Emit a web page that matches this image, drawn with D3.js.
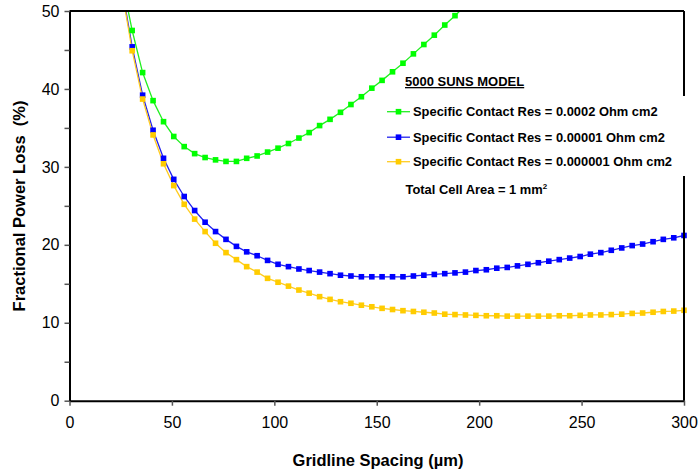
<!DOCTYPE html>
<html>
<head>
<meta charset="utf-8">
<script src="https://cdnjs.cloudflare.com/ajax/libs/d3/7.8.5/d3.min.js"></script>
<style>
html,body{margin:0;padding:0;background:#fff;}
svg{display:block;font-family:"Liberation Sans",Arial,sans-serif;}
</style>
</head>
<body>
<svg id="chart" width="699" height="471"></svg>
<script>
// Gridline spacing (µm) – first value lies above the plot (line enters from the top)
const spacing = [25.5, 30.6, 35.7, 40.8, 45.9, 50.9, 56.0, 61.1, 66.2, 71.3, 76.4, 81.5, 86.5, 91.6, 96.7, 101.8, 106.9, 112.0, 117.0, 122.1, 127.2, 132.3, 137.4, 142.5, 147.6, 152.6, 157.7, 162.8, 167.9, 173.0, 178.1, 183.2, 188.2, 193.3, 198.4, 203.5, 208.6, 213.7, 218.7, 223.8, 228.9, 234.0, 239.1, 244.2, 249.3, 254.3, 259.4, 264.5, 269.6, 274.7, 279.8, 284.9, 289.9, 295.0, 300.0];

// Fractional power loss (%)
const res0002 = [54.1, 47.5, 42.1, 38.5, 35.8, 33.9, 32.6, 31.7, 31.2, 30.9, 30.7, 30.7, 31.1, 31.4, 31.9, 32.4, 33.0, 33.7, 34.4, 35.3, 36.1, 37.0, 38.0, 39.0, 40.1, 41.1, 42.2, 43.3, 44.5, 45.7, 46.9, 48.2, 49.4, 50.7];
const res00001 = [53.1, 45.4, 39.2, 34.7, 31.1, 28.4, 26.2, 24.4, 22.9, 21.7, 20.7, 19.8, 19.1, 18.6, 18.0, 17.5, 17.2, 16.9, 16.7, 16.5, 16.3, 16.1, 16.0, 15.9, 15.9, 15.9, 15.9, 15.9, 16.0, 16.1, 16.2, 16.3, 16.4, 16.5, 16.7, 16.8, 17.0, 17.1, 17.3, 17.5, 17.7, 17.9, 18.1, 18.3, 18.5, 18.8, 19.0, 19.3, 19.6, 19.9, 20.1, 20.4, 20.7, 20.9, 21.2];
const res000001 = [52.8, 44.9, 38.7, 34.1, 30.4, 27.6, 25.2, 23.3, 21.7, 20.2, 19.0, 18.1, 17.2, 16.5, 15.7, 15.2, 14.7, 14.2, 13.8, 13.35, 13.0, 12.7, 12.5, 12.25, 12.05, 11.85, 11.7, 11.55, 11.45, 11.35, 11.25, 11.1, 11.05, 11.0, 10.95, 10.9, 10.9, 10.85, 10.85, 10.85, 10.85, 10.85, 10.9, 10.9, 10.95, 11.0, 11.0, 11.05, 11.1, 11.2, 11.25, 11.35, 11.45, 11.5, 11.6];

const seriesNames = ["Specific Contact Res = 0.0002 Ohm cm2", "Specific Contact Res = 0.00001 Ohm cm2", "Specific Contact Res = 0.000001 Ohm cm2"];
const seriesColors = ["#00ff00", "#0000ff", "#ffcc00"];
const lineColors = ["#22ee22", "#2222ee", "#ffcc22"];
const xTicks = [0, 50, 100, 150, 200, 250, 300];
const yTicks = [0, 10, 20, 30, 40, 50];
const yMinorTicks = [5, 15, 25, 35, 45];

const svg = d3.select("#chart");
const L = 69.5, R = 684, T = 11, B = 400.7;
const x = d3.scaleLinear().domain([0, 300]).range([L, R]);
const y = d3.scaleLinear().domain([0, 50]).range([B, T]);

svg.append("defs").append("clipPath").attr("id", "plotclip")
  .append("rect").attr("x", L).attr("y", T).attr("width", R - L).attr("height", B - T);

const seriesData = [res0002, res00001, res000001].map(vals => vals.map((v, i) => ({x: spacing[i], y: v})));

// series lines
const line = d3.line().x(d => x(d.x)).y(d => y(d.y));
const plot = svg.append("g");
seriesData.forEach((data, si) => {
  plot.append("path").datum(data)
    .attr("clip-path", "url(#plotclip)")
    .attr("fill", "none")
    .attr("stroke", lineColors[si])
    .attr("stroke-width", 1.3)
    .attr("d", line);
});
seriesData.forEach((data, si) => {
  const ms = 5.6;
  plot.selectAll(null).data(data.filter(d => d.y <= 50)).enter().append("rect")
    .attr("x", d => x(d.x) - ms / 2).attr("y", d => y(d.y) - ms / 2)
    .attr("width", ms).attr("height", ms)
    .attr("fill", seriesColors[si]);
});

// frame (top / right)
svg.append("line").attr("x1", L).attr("x2", R).attr("y1", T).attr("y2", T).attr("stroke", "#000").attr("stroke-width", 2);
svg.append("line").attr("x1", R).attr("x2", R).attr("y1", T).attr("y2", B).attr("stroke", "#000").attr("stroke-width", 2);

// axes
const xAxis = d3.axisBottom(x).tickValues(xTicks).tickSize(5).tickSizeOuter(0).tickPadding(11);
const gx = svg.append("g").attr("transform", `translate(0,${B})`).call(xAxis);
gx.select(".domain").attr("stroke", "#000").attr("stroke-width", 2);
gx.selectAll(".tick line").attr("stroke", "#555").attr("stroke-width", 1.5);
gx.selectAll(".tick text").attr("font-size", 16).attr("fill", "#000").attr("font-family", "Liberation Sans, Arial, sans-serif");

const yAxis = d3.axisLeft(y).tickValues(yTicks).tickSize(5).tickSizeOuter(0).tickPadding(5);
const gy = svg.append("g").attr("transform", `translate(${L},0)`).call(yAxis);
gy.select(".domain").attr("stroke", "#000").attr("stroke-width", 2);
gy.selectAll(".tick line").attr("stroke", "#555").attr("stroke-width", 1.5);
gy.selectAll(".tick text").attr("font-size", 16).attr("fill", "#000").attr("font-family", "Liberation Sans, Arial, sans-serif");
const yMinor = d3.axisLeft(y).tickValues(yMinorTicks).tickSize(5).tickFormat("");
const gym = svg.append("g").attr("transform", `translate(${L},0)`).call(yMinor);
gym.select(".domain").remove();
gym.selectAll(".tick line").attr("stroke", "#555").attr("stroke-width", 1.5);

// axis titles
svg.append("text").attr("x", 378).attr("y", 466).attr("text-anchor", "middle")
  .attr("font-size", 16.5).attr("font-weight", "bold").text("Gridline Spacing (µm)");
svg.append("text").attr("transform", "translate(25,206) rotate(-90)").attr("text-anchor", "middle")
  .attr("font-size", 16.5).attr("font-weight", "bold").attr("xml:space", "preserve").text("Fractional Power Loss  (%)");

// legend box (white, covers frame)
svg.append("rect").attr("x", 382).attr("y", 96).attr("width", 312).attr("height", 80).attr("fill", "#fff");
const lg = svg.append("g");
const rowsY = [111.7, 137.2, 161.7];
seriesNames.forEach((name, i) => {
  lg.append("line").attr("x1", 387).attr("x2", 410).attr("y1", rowsY[i]).attr("y2", rowsY[i])
    .attr("stroke", lineColors[i]).attr("stroke-width", 1.3);
  lg.append("rect").attr("x", 398.5 - 2.8).attr("y", rowsY[i] - 2.8).attr("width", 5.6).attr("height", 5.6)
    .attr("fill", seriesColors[i]);
  lg.append("text").attr("x", 413).attr("y", rowsY[i] + 4.6).attr("font-size", 12.9).attr("font-weight", "bold").text(name);
});

// title annotation
svg.append("text").attr("x", 405).attr("y", 86).attr("font-size", 13).attr("font-weight", "bold")
  .attr("text-decoration", "underline").text("5000 SUNS MODEL");
const tca = svg.append("text").attr("x", 405.5).attr("y", 194).attr("font-size", 12.9).attr("font-weight", "bold");
tca.append("tspan").text("Total Cell Area = 1 mm");
tca.append("tspan").attr("dy", -5).attr("font-size", 8).text("2");
</script>
</body>
</html>
